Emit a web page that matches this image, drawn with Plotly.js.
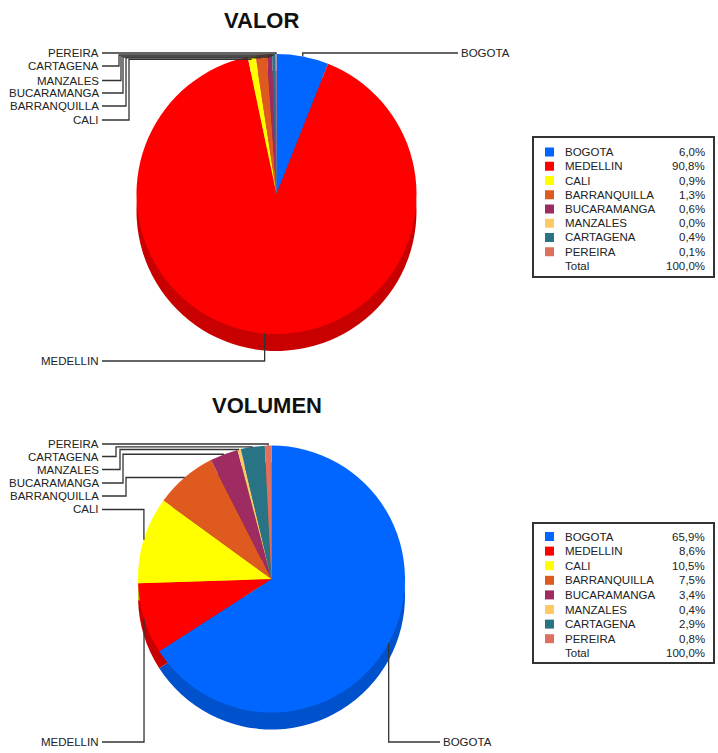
<!DOCTYPE html>
<html>
<head>
<meta charset="utf-8">
<script src="https://cdn.plot.ly/plotly-3.0.1.min.js"></script>
<style>html,body{margin:0;padding:0;background:#fff;}#chart{width:718px;height:753px;}</style>
</head>
<body>
<div id="chart"></div>
<script>
// ---- DATA ----
const categories = ["BOGOTA","MEDELLIN","CALI","BARRANQUILLA","BUCARAMANGA","MANZALES","CARTAGENA","PEREIRA"];
const valorPct   = [6.0, 90.8, 0.9, 1.3, 0.6, 0.0, 0.4, 0.1];
const volumenPct = [65.9, 8.6, 10.5, 7.5, 3.4, 0.4, 2.9, 0.8];
const valorLabels   = ["6,0%","90,8%","0,9%","1,3%","0,6%","0,0%","0,4%","0,1%"];
const volumenLabels = ["65,9%","8,6%","10,5%","7,5%","3,4%","0,4%","2,9%","0,8%"];
const totalLabel = "100,0%";
const titles = ["VALOR","VOLUMEN"];

// ---- STYLE ----
const faceColors = ["#0066FF","#FF0000","#FFFF00","#DE5A1E","#9E2B62","#FFC966","#287384","#DE7060"];
const rimColors  = ["#0052CC","#C80000","#C8C800","#B04516","#7C2250","#CCA050","#1F5A68","#B0594C"];
const W = 718, H = 753;
const X = p => p / W;
const Y = p => 1 - p / H;
const FONT = "Liberation Sans, Arial, sans-serif";

const charts = [
  { vals: valorPct, pcts: valorLabels, cx: 276.5, cy: 194, r: 140, depth: 17,
    title: {x: 261, y: 21},
    legend: {x0: 533, x1: 714, y0: 137, y1: 277, row0: 152, step: 14.25},
    leaders: [
      {i:7, yl:53,  route:"direct"},
      {i:6, yl:66,  route:"jog", xi:119, dy:1},
      {i:5, yl:80.5,route:"jog", xi:121, dy:2},
      {i:4, yl:93,  route:"jog", xi:123, dy:3},
      {i:3, yl:106, route:"jog", xi:126, dy:3},
      {i:2, yl:120, route:"jog", xi:129, dy:3},
      {i:1, yl:361, route:"direct"},
      {i:0, yl:53,  route:"direct", right:true, xr:459}
    ]},
  { vals: volumenPct, pcts: volumenLabels, cx: 271.5, cy: 579, r: 133.5, depth: 17,
    title: {x: 267, y: 405},
    legend: {x0: 533, x1: 714, y0: 523, y1: 663, row0: 536.5, step: 14.6},
    leaders: [
      {i:7, yl:444,  route:"direct"},
      {i:6, yl:456.5,route:"jog", xi:116, dy:0},
      {i:5, yl:469.5,route:"jog", xi:120, dy:0},
      {i:4, yl:483,  route:"jog", xi:123, dy:0},
      {i:3, yl:496,  route:"jog", xi:126, dy:0},
      {i:2, yl:509.5,route:"direct"},
      {i:1, yl:742,  route:"direct"},
      {i:0, yl:742,  route:"direct", right:true, xr:441}
    ]}
];

const traces = [], shapes = [], annotations = [];

function edgePoint(vals, i, cx, cy, r) {
  const total = vals.reduce((a,b)=>a+b,0);
  let cum = 0;
  for (let k = 0; k < i; k++) cum += vals[k];
  cum += vals[i] / 2;
  const ang = cum / total * 2 * Math.PI;
  return [cx + r * Math.sin(ang), cy - r * Math.cos(ang)];
}

charts.forEach((c, ci) => {
  const base = {type:"pie", labels: categories, sort:false, direction:"clockwise", rotation:0,
    textinfo:"none", hoverinfo:"label+percent", showlegend:false};
  // rim (3D depth)
  traces.push(Object.assign({}, base, {
    values: c.vals,
    marker:{colors: rimColors, line:{width:0}},
    domain:{x:[X(c.cx-c.r), X(c.cx+c.r)], y:[Y(c.cy+c.r+c.depth), Y(c.cy-c.r+c.depth)]}
  }));
  // face
  traces.push(Object.assign({}, base, {
    values: c.vals,
    marker:{colors: faceColors, line:{width:0}},
    domain:{x:[X(c.cx-c.r), X(c.cx+c.r)], y:[Y(c.cy+c.r), Y(c.cy-c.r)]}
  }));

  // title
  annotations.push({text:"<b>"+titles[ci]+"</b>", x:X(c.title.x), y:Y(c.title.y), xref:"paper", yref:"paper",
    xanchor:"center", yanchor:"middle", showarrow:false, font:{family:FONT, size:22, color:"#111"}});

  // leaders
  c.leaders.forEach(L => {
    const [ex, ey] = edgePoint(c.vals, L.i, c.cx, c.cy, c.r);
    let pts;
    if (L.right) {
      pts = [[L.xr - 1, L.yl], [ex, L.yl], [ex, ey]];
      annotations.push({text:categories[L.i], x:X(L.xr), y:Y(L.yl), xref:"paper", yref:"paper",
        xanchor:"left", yanchor:"middle", showarrow:false, font:{family:FONT, size:11.5, color:"#222"}});
    } else {
      const xl = 102;
      if (L.route === "direct") {
        pts = [[xl, L.yl], [ex, L.yl], [ex, ey]];
      } else {
        const yt = ey + (L.dy || 0);
        pts = [[xl, L.yl], [L.xi, L.yl], [L.xi, yt], [ex, yt]];
      }
      annotations.push({text:categories[L.i], x:X(101), y:Y(L.yl), xref:"paper", yref:"paper",
        xanchor:"right", yanchor:"middle", showarrow:false, font:{family:FONT, size:11.5, color:"#222"}});
    }
    const path = pts.map((p, k) => (k ? "L" : "M") + X(p[0]).toFixed(5) + "," + Y(p[1]).toFixed(5)).join(" ");
    shapes.push({type:"path", xref:"paper", yref:"paper", path: path, line:{color:"#333", width:1.3}});
  });

  // legend box
  const g = c.legend;
  shapes.push({type:"rect", xref:"paper", yref:"paper", x0:X(g.x0), x1:X(g.x1), y0:Y(g.y1), y1:Y(g.y0),
    line:{color:"#333", width:2}, fillcolor:"rgba(0,0,0,0)"});
  categories.forEach((name, k) => {
    const yy = g.row0 + k * g.step;
    shapes.push({type:"rect", xref:"paper", yref:"paper", x0:X(545), x1:X(554), y0:Y(yy+4.5), y1:Y(yy-4.5),
      line:{width:0}, fillcolor: faceColors[k]});
    annotations.push({text:name, x:X(563), y:Y(yy), xref:"paper", yref:"paper", xanchor:"left", yanchor:"middle",
      showarrow:false, font:{family:FONT, size:11.5, color:"#222"}});
    annotations.push({text:c.pcts[k], x:X(707), y:Y(yy), xref:"paper", yref:"paper", xanchor:"right", yanchor:"middle",
      showarrow:false, font:{family:FONT, size:11.5, color:"#222"}});
  });
  const yt = g.row0 + categories.length * g.step;
  annotations.push({text:"Total", x:X(563), y:Y(yt), xref:"paper", yref:"paper", xanchor:"left", yanchor:"middle",
    showarrow:false, font:{family:FONT, size:11.5, color:"#222"}});
  annotations.push({text:totalLabel, x:X(707), y:Y(yt), xref:"paper", yref:"paper", xanchor:"right", yanchor:"middle",
    showarrow:false, font:{family:FONT, size:11.5, color:"#222"}});
});

const layout = {
  width: W, height: H, margin:{l:0, r:0, t:0, b:0},
  paper_bgcolor:"#fff", plot_bgcolor:"#fff",
  showlegend:false, shapes: shapes, annotations: annotations
};
Plotly.newPlot("chart", traces, layout, {displayModeBar:false, staticPlot:true});
</script>
</body>
</html>
